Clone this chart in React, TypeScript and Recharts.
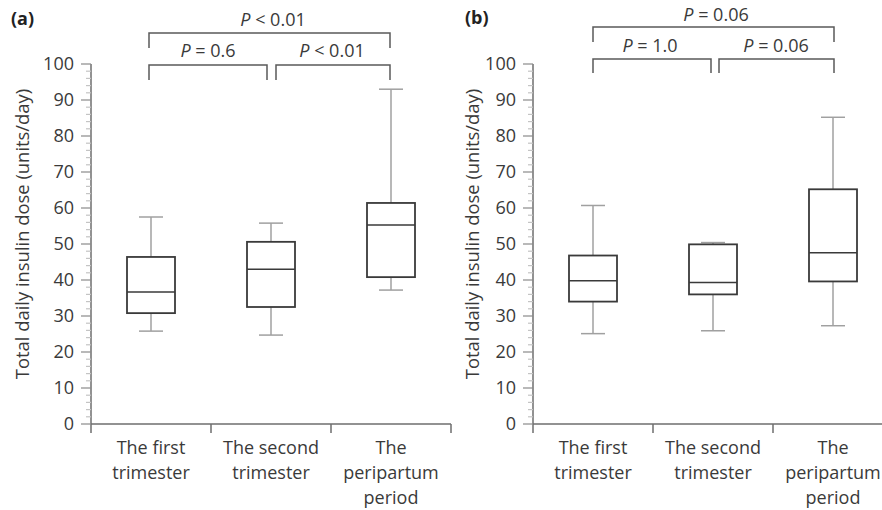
import React from "react";
import { ComposedChart, Bar, XAxis, YAxis } from "recharts";

// categories and tick labels
const categories = ["The first trimester", "The second trimester", "The peripartum period"];
const categoryLines = [
  ["The first", "trimester"],
  ["The second", "trimester"],
  ["The", "peripartum", "period"],
];
const yTicks = [
  0, 2, 4, 6, 8, 10, 12, 14, 16, 18, 20, 22, 24, 26, 28, 30, 32, 34, 36, 38, 40, 42, 44, 46, 48, 50,
  52, 54, 56, 58, 60, 62, 64, 66, 68, 70, 72, 74, 76, 78, 80, 82, 84, 86, 88, 90, 92, 94, 96, 98, 100,
];

// panel (a) box plot values
const aMin = [25.8, 24.7, 37.2];
const aQ1 = [30.8, 32.5, 40.8];
const aMedian = [36.7, 43.0, 55.3];
const aQ3 = [46.4, 50.6, 61.4];
const aMax = [57.5, 55.8, 93.0];

// panel (b) box plot values
const bMin = [25.1, 25.9, 27.3];
const bQ1 = [34.0, 36.0, 39.6];
const bMedian = [39.8, 39.3, 47.6];
const bQ3 = [46.8, 49.9, 65.2];
const bMax = [60.7, 50.4, 85.2];

const FONT = '"Open Sans", "Noto Sans", sans-serif';
const TEXT = "#3a3a3a";
const AXIS = "#6e6e6e";
const BOX = "#3a3a3a";
const WHISKER = "#a0a0a0";

function buildRows(min: number[], q1: number[], med: number[], q3: number[], max: number[]) {
  return categories.map((name, i) => ({
    name,
    min: min[i],
    q1: q1[i],
    median: med[i],
    q3: q3[i],
    max: max[i],
    range: [min[i], max[i]],
  }));
}

const dataA = buildRows(aMin, aQ1, aMedian, aQ3, aMax);
const dataB = buildRows(bMin, bQ1, bMedian, bQ3, bMax);

function BoxShape(props: any) {
  const { x, y, width, height, payload } = props;
  if (!payload) return null;
  const { min, q1, median, q3, max } = payload;
  const top = Math.min(y, y + height);
  const h = Math.abs(height);
  const py = (v: number) => top + (h * (max - v)) / (max - min);
  const cx = x + width / 2;
  const cap = width * 0.25;
  return (
    <g>
      <line x1={cx} x2={cx} y1={py(max)} y2={py(q3)} stroke={WHISKER} strokeWidth={1.5} />
      <line x1={cx} x2={cx} y1={py(q1)} y2={py(min)} stroke={WHISKER} strokeWidth={1.5} />
      <line x1={cx - cap} x2={cx + cap} y1={py(max)} y2={py(max)} stroke={WHISKER} strokeWidth={1.5} />
      <line x1={cx - cap} x2={cx + cap} y1={py(min)} y2={py(min)} stroke={WHISKER} strokeWidth={1.5} />
      <rect x={x} y={py(q3)} width={width} height={py(q1) - py(q3)} fill="#fff" stroke={BOX} strokeWidth={1.8} />
      <line x1={x} x2={x + width} y1={py(median)} y2={py(median)} stroke={BOX} strokeWidth={1.5} />
    </g>
  );
}

function XTick(props: any) {
  const { x, y, payload, index } = props;
  const half = (payload && payload.offset) || 60;
  const lines = categoryLines[index] || [];
  return (
    <g>
      <line x1={x - half} x2={x - half} y1={y} y2={y + 9} stroke={AXIS} strokeWidth={1.5} />
      {index === categories.length - 1 && (
        <line x1={x + half} x2={x + half} y1={y} y2={y + 9} stroke={AXIS} strokeWidth={1.5} />
      )}
      <text x={x} y={y + 30} textAnchor="middle" fontSize={18} fill={TEXT} fontFamily={FONT}>
        {lines.map((l, i) => (
          <tspan key={i} x={x} dy={i === 0 ? 0 : 25}>
            {l}
          </tspan>
        ))}
      </text>
    </g>
  );
}

function YTick(props: any) {
  const { x, y, payload } = props;
  const v = payload.value;
  const major = v % 10 === 0;
  return (
    <g>
      <line x1={x - (major ? 10 : 5)} x2={x} y1={y} y2={y} stroke={major ? "#8a8a8a" : "#c4c4c4"} strokeWidth={1.2} />
      {major && (
        <text x={x - 17} y={y} dy="0.35em" textAnchor="end" fontSize={18} fill={TEXT} fontFamily={FONT}>
          {v}
        </text>
      )}
    </g>
  );
}

function Panel({ data }: { data: any[] }) {
  return (
    <ComposedChart width={460} height={510} data={data} margin={{ top: 64, right: 9, bottom: 6, left: 31 }}>
      <XAxis
        dataKey="name"
        type="category"
        height={80}
        tickLine={false}
        tickSize={0}
        tickMargin={0}
        interval={0}
        axisLine={{ stroke: AXIS, strokeWidth: 1.5 }}
        tick={<XTick />}
      />
      <YAxis
        width={60}
        domain={[0, 100]}
        ticks={yTicks}
        interval={0}
        tickLine={false}
        tickSize={0}
        tickMargin={0}
        axisLine={{ stroke: AXIS, strokeWidth: 1.5 }}
        tick={<YTick />}
      />
      <Bar dataKey="range" barSize={48} shape={<BoxShape />} isAnimationActive={false} />
    </ComposedChart>
  );
}

function Bracket({ x1, x2, y, leg }: { x1: number; x2: number; y: number; leg: number }) {
  return (
    <path d={`M${x1},${y + leg} V${y} H${x2} V${y + leg}`} fill="none" stroke="#5a5a5a" strokeWidth={1.5} />
  );
}

function PLabel({ x, y, rest }: { x: number; y: number; rest: string }) {
  return (
    <text x={x} y={y} textAnchor="middle" fontSize={18} fill={TEXT} fontFamily={FONT}>
      <tspan fontStyle="italic">P</tspan>
      <tspan>{rest}</tspan>
    </text>
  );
}

export default function App() {
  const yLabel = "Total daily insulin dose (units/day)";
  return (
    <div
      style={{
        position: "absolute",
        left: 0,
        top: 0,
        width: 882,
        height: 510,
        overflow: "hidden",
        background: "#fff",
        fontFamily: FONT,
      }}
    >
      <div style={{ position: "absolute", left: 0, top: 0 }}>
        <Panel data={dataA} />
      </div>
      <div style={{ position: "absolute", left: 442, top: 0 }}>
        <Panel data={dataB} />
      </div>
      <svg width={882} height={510} style={{ position: "absolute", left: 0, top: 0, pointerEvents: "none" }}>
        <text x={11} y={25} fontSize={18} fontWeight="bold" fill="#222" fontFamily={FONT}>
          (a)
        </text>
        <text x={465} y={24} fontSize={18} fontWeight="bold" fill="#222" fontFamily={FONT}>
          (b)
        </text>
        <text
          transform="translate(21,234) rotate(-90)"
          textAnchor="middle"
          dominantBaseline="central"
          fontSize={18.4}
          fill={TEXT}
          fontFamily={FONT}
        >
          {yLabel}
        </text>
        <text
          transform="translate(471,234) rotate(-90)"
          textAnchor="middle"
          dominantBaseline="central"
          fontSize={18.4}
          fill={TEXT}
          fontFamily={FONT}
        >
          {yLabel}
        </text>

        <Bracket x1={149} x2={390} y={33} leg={15} />
        <Bracket x1={149} x2={267} y={65} leg={15} />
        <Bracket x1={276} x2={390} y={65} leg={15} />
        <PLabel x={273} y={26} rest=" < 0.01" />
        <PLabel x={208} y={57} rest=" = 0.6" />
        <PLabel x={332} y={57} rest=" < 0.01" />

        <Bracket x1={593} x2={834} y={27} leg={15} />
        <Bracket x1={593} x2={711} y={59} leg={14} />
        <Bracket x1={719} x2={834} y={59} leg={14} />
        <PLabel x={716} y={21} rest=" = 0.06" />
        <PLabel x={650} y={52} rest=" = 1.0" />
        <PLabel x={776} y={52} rest=" = 0.06" />
      </svg>
    </div>
  );
}
